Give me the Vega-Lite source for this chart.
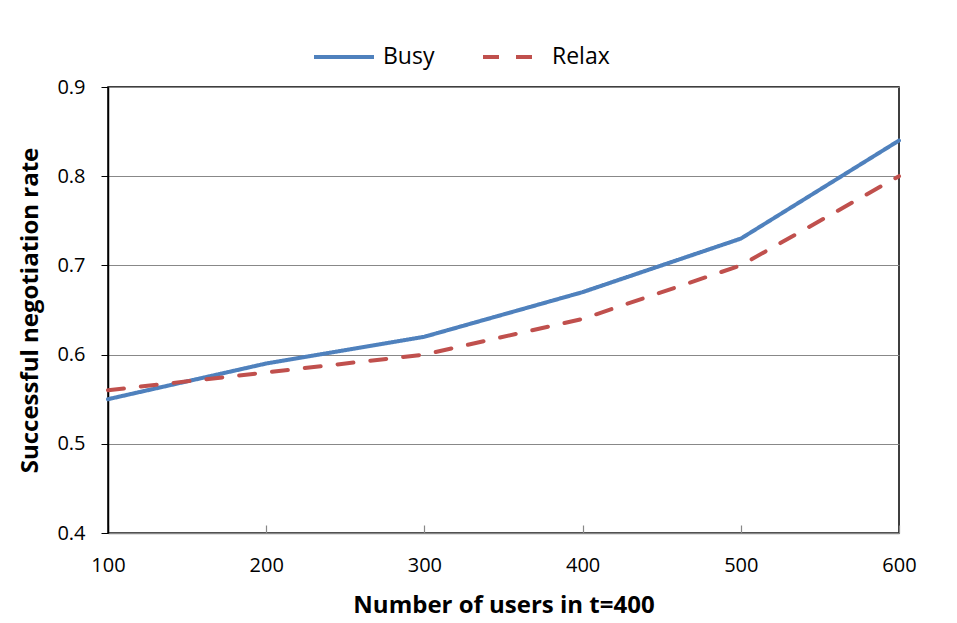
{
  "$schema": "https://vega.github.io/schema/vega-lite/v6.json",
  "width": 791,
  "height": 446,
  "autosize": "none",
  "padding": {"left": 108, "top": 87, "right": 58, "bottom": 90},
  "background": "white",
  "config": {
    "font": "Open Sans",
    "view": {"stroke": "black", "strokeWidth": 1.5}
  },
  "data": {
    "values": [
      {"users": 100, "rate": 0.55, "series": "Busy"},
      {"users": 200, "rate": 0.59, "series": "Busy"},
      {"users": 300, "rate": 0.62, "series": "Busy"},
      {"users": 400, "rate": 0.67, "series": "Busy"},
      {"users": 500, "rate": 0.73, "series": "Busy"},
      {"users": 600, "rate": 0.84, "series": "Busy"},
      {"users": 100, "rate": 0.56, "series": "Relax"},
      {"users": 200, "rate": 0.58, "series": "Relax"},
      {"users": 300, "rate": 0.60, "series": "Relax"},
      {"users": 400, "rate": 0.64, "series": "Relax"},
      {"users": 500, "rate": 0.70, "series": "Relax"},
      {"users": 600, "rate": 0.80, "series": "Relax"}
    ]
  },
  "mark": {"type": "line", "strokeWidth": 4, "strokeCap": "round"},
  "encoding": {
    "x": {
      "field": "users",
      "type": "quantitative",
      "scale": {"domain": [100, 600], "nice": false},
      "axis": {
        "values": [100, 200, 300, 400, 500, 600],
        "title": "Number of users in t=400",
        "titleFont": "Open Sans",
        "titleFontSize": 24,
        "titleFontWeight": "bold",
        "titleColor": "black",
        "titlePadding": 18,
        "labelFontSize": 20,
        "labelColor": "black",
        "labelPadding": 30,
        "labelFlush": false,
        "tickSize": -8,
        "tickWidth": 1.2,
        "tickColor": "#888888",
        "domainColor": "#888888",
        "domainWidth": 1.5,
        "grid": false
      }
    },
    "y": {
      "field": "rate",
      "type": "quantitative",
      "scale": {"domain": [0.4, 0.9], "nice": false, "zero": false},
      "axis": {
        "values": [0.4, 0.5, 0.6, 0.7, 0.8, 0.9],
        "format": ".1f",
        "title": "Successful negotiation rate",
        "titleFont": "Open Sans",
        "titleFontSize": 24,
        "titleFontWeight": "bold",
        "titleColor": "black",
        "titlePadding": 14,
        "labelFontSize": 20,
        "labelColor": "black",
        "labelPadding": 16,
        "labelFlush": false,
        "tickSize": 7,
        "tickColor": "black",
        "domainColor": "black",
        "domainWidth": 1.5,
        "grid": true,
        "gridColor": "#888888",
        "gridWidth": 1.2
      }
    },
    "color": {
      "field": "series",
      "type": "nominal",
      "scale": {"domain": ["Busy", "Relax"], "range": ["#4F81BD", "#C0504D"]},
      "legend": {
        "orient": "none",
        "legendX": 204,
        "legendY": -62,
        "direction": "horizontal",
        "title": null,
        "symbolType": "stroke",
        "symbolSize": 3600,
        "symbolStrokeWidth": 4,
        "labelFontSize": 23,
        "labelFont": "Open Sans",
        "labelColor": "black",
        "labelOffset": 7,
        "columnPadding": 40
      }
    },
    "strokeDash": {
      "field": "series",
      "type": "nominal",
      "scale": {"domain": ["Busy", "Relax"], "range": [[1, 0], [16, 17]]},
      "legend": {
        "orient": "none",
        "legendX": 204,
        "legendY": -62,
        "direction": "horizontal",
        "title": null,
        "symbolType": "stroke",
        "symbolSize": 3600,
        "symbolStrokeWidth": 4,
        "labelFontSize": 23,
        "labelFont": "Open Sans",
        "labelColor": "black",
        "labelOffset": 7,
        "columnPadding": 40
      }
    }
  }
}
